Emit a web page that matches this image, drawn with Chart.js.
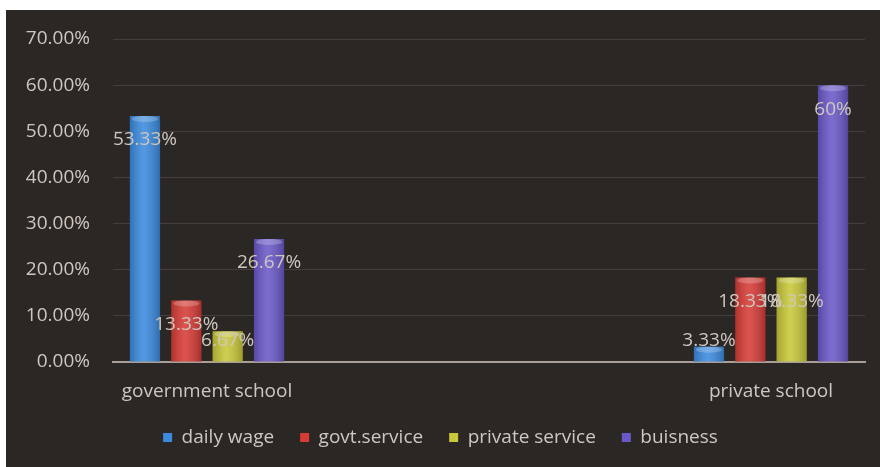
<!DOCTYPE html>
<html>
<head>
<meta charset="utf-8">
<script src="https://cdn.jsdelivr.net/npm/chart.js@4"></script>
<style>
  html, body { margin: 0; padding: 0; background: #ffffff; }
  #wrap {
    position: absolute; left: 6px; top: 10px;
    width: 874px; height: 457px;
    background: #2b2725;
  }
</style>
</head>
<body>
<div id="wrap"><canvas id="chart" width="874" height="457"></canvas></div>
<script>
//
// DATA
//
const schools = ["government school", "private school"];
const daily_wage = [53.33, 3.33];
const govt_service = [13.33, 18.33];
const private_service = [6.67, 18.33];
const buisness = [26.67, 60];
const value_labels = {
    "daily wage": ["53.33%", "3.33%"],
    "govt.service": ["13.33%", "18.33%"],
    "private service": ["6.67%", "18.33%"],
    "buisness": ["26.67%", "60%"]
};
const y_ticks = [0, 10, 20, 30, 40, 50, 60, 70];

// the two groups sit near the plot edges, so pad with empty slots
const labels = [schools[0], "", "", schools[1]];
const pad = (arr) => [arr[0], null, null, arr[1]];

const series = [
    { label: "daily wage", data: daily_wage, color: "#3b8ade" },
    { label: "govt.service", data: govt_service, color: "#d63b36" },
    { label: "private service", data: private_service, color: "#c8c83a" },
    { label: "buisness", data: buisness, color: "#6a58c8" }
];

const text_color = "#cfc7bf";
const font_family = "'Open Sans', sans-serif";
const font_size = 19;

//
// BAR SHADING + VALUE LABELS
//
const bar_shade = {
    id: "bar_shade",
    afterDatasetsDraw(chart) {
        const ctx = chart.ctx;
        const zero_y = chart.scales.y.getPixelForValue(0);
        chart.data.datasets.forEach((ds, di) => {
            const meta = chart.getDatasetMeta(di);
            meta.data.forEach((bar, i) => {
                if (ds.data[i] == null) return;
                const left = bar.x - bar.width / 2;
                const g = ctx.createLinearGradient(left, 0, left + bar.width, 0);
                g.addColorStop(0, "rgba(0,0,0,0.18)");
                g.addColorStop(0.45, "rgba(255,255,255,0.12)");
                g.addColorStop(1, "rgba(0,0,0,0.22)");
                ctx.save();
                ctx.fillStyle = g;
                ctx.fillRect(left, bar.y, bar.width, bar.base - bar.y);
                // lighter cap on top
                ctx.fillStyle = "rgba(255,255,255,0.22)";
                ctx.beginPath();
                ctx.ellipse(bar.x, bar.y + 3, bar.width / 2 - 2, 3, 0, 0, Math.PI * 2);
                ctx.fill();
                ctx.restore();
            });
        });
        // value labels
        ctx.save();
        ctx.font = font_size + "px " + font_family;
        ctx.fillStyle = text_color;
        ctx.textAlign = "center";
        ctx.textBaseline = "middle";
        chart.data.datasets.forEach((ds, di) => {
            const meta = chart.getDatasetMeta(di);
            const texts = value_labels[ds.label];
            let k = 0;
            meta.data.forEach((bar, i) => {
                if (ds.data[i] == null) return;
                const ly = Math.min(bar.y + 24, zero_y - 21);
                ctx.fillText(texts[k], bar.x, ly);
                k++;
            });
        });
        ctx.restore();
    }
};

//
// CHART
//
new Chart(document.getElementById("chart"), {
    type: "bar",
    data: {
        labels: labels,
        datasets: series.map(s => ({
            label: s.label,
            data: pad(s.data),
            backgroundColor: s.color,
            borderWidth: 0,
            categoryPercentage: 0.88,
            barPercentage: 0.73,
            skipNull: true
        }))
    },
    options: {
        responsive: false,
        animation: false,
        layout: { padding: { left: 10, right: 15, top: 29, bottom: 10 } },
        scales: {
            x: {
                grid: { display: false, drawTicks: false },
                border: { display: true, color: "#a8a098", width: 2 },
                ticks: {
                    color: text_color,
                    font: { family: font_family, size: font_size },
                    padding: 18,
                    maxRotation: 0,
                    autoSkip: false
                },
                afterFit: (s) => { s.height = 40; }
            },
            y: {
                min: 0,
                max: 70,
                afterBuildTicks: (s) => { s.ticks = y_ticks.map(v => ({ value: v })); },
                grid: { color: "rgba(200,190,180,0.16)", drawTicks: false },
                border: { display: false },
                ticks: {
                    color: text_color,
                    font: { family: font_family, size: font_size },
                    padding: 23,
                    callback: (v) => v.toFixed(2) + "%"
                },
                afterFit: (s) => {
                    s.width = 97;
                    s.paddingTop = 0;
                    s.paddingBottom = 0;
                }
            }
        },
        plugins: {
            legend: {
                position: "bottom",
                labels: {
                    color: text_color,
                    font: { family: font_family, size: font_size },
                    boxWidth: 9,
                    boxHeight: 9,
                    padding: 26
                }
            },
            tooltip: { enabled: false }
        }
    },
    plugins: [bar_shade]
});
</script>
</body>
</html>
